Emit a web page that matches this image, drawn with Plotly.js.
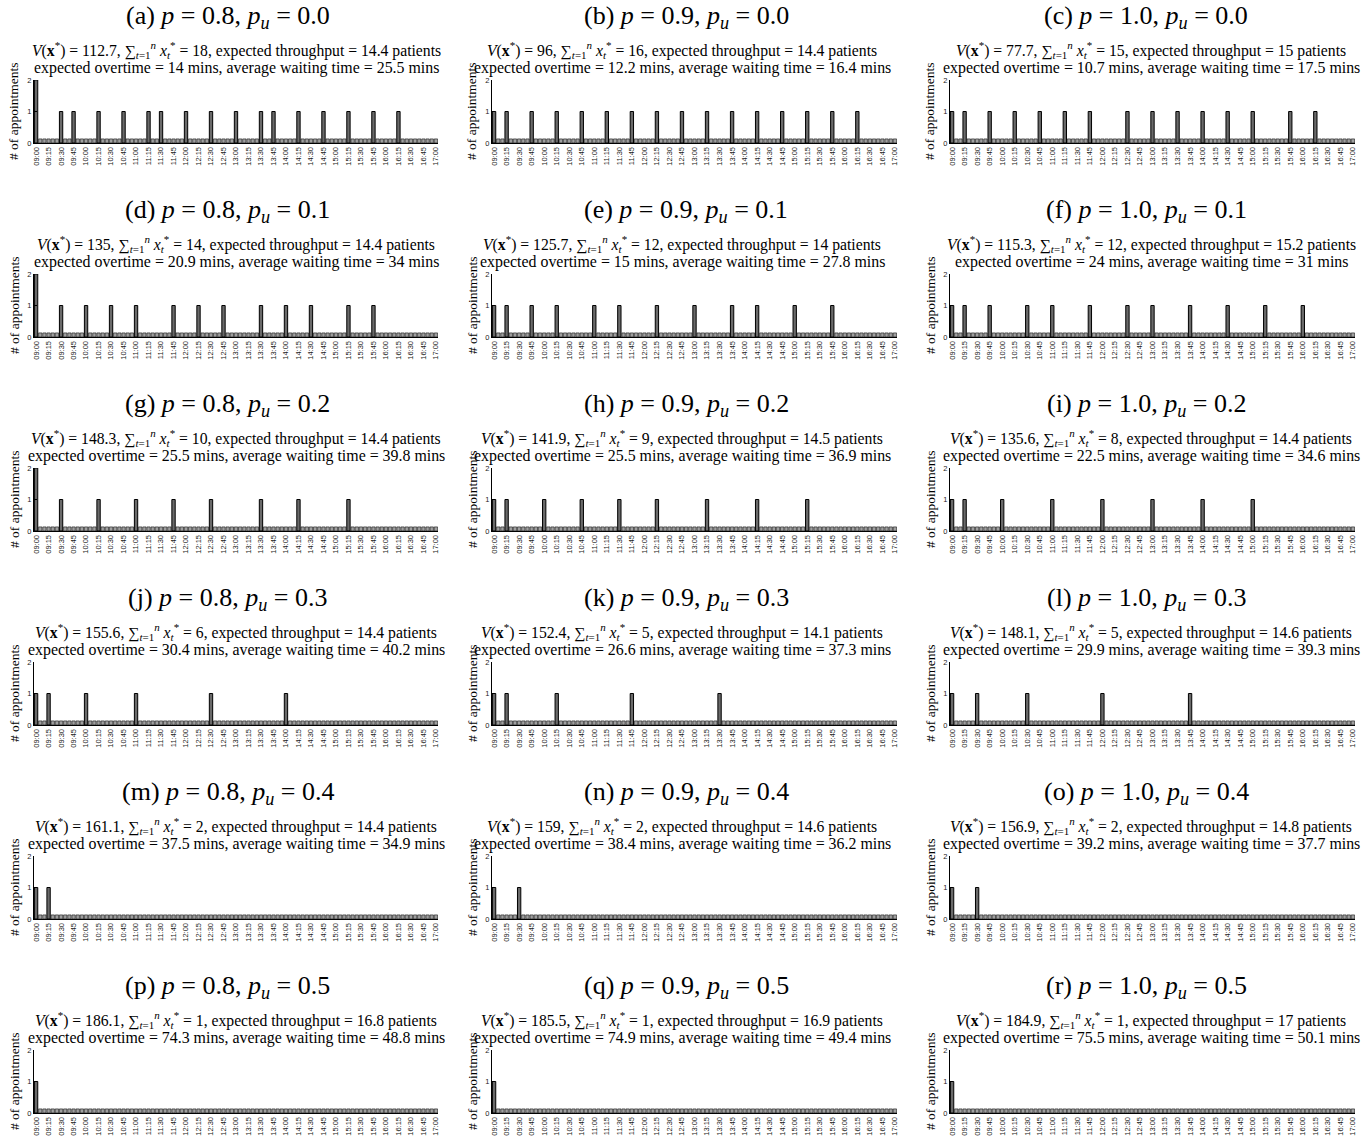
<!DOCTYPE html>
<html>
<head>
<meta charset="utf-8">
<script src="https://cdn.plot.ly/plotly-3.0.1.min.js"></script>
<style>html,body{margin:0;padding:0;background:#fff;}#chart{width:1371px;height:1141px;}</style>
</head>
<body>
<div id="chart"></div>
<script>
// ---------- DATA ----------
const tickLabels = ["09:00","09:15","09:30","09:45","10:00","10:15","10:30","10:45","11:00","11:15","11:30","11:45","12:00","12:15","12:30","12:45","13:00","13:15","13:30","13:45","14:00","14:15","14:30","14:45","15:00","15:15","15:30","15:45","16:00","16:15","16:30","16:45","17:00"];
const panelLetters = ["a","b","c","d","e","f","g","h","i","j","k","l","m","n","o","p","q","r"];
const pValues  = [0.8,0.9,1.0, 0.8,0.9,1.0, 0.8,0.9,1.0, 0.8,0.9,1.0, 0.8,0.9,1.0, 0.8,0.9,1.0];
const puValues = [0.0,0.0,0.0, 0.1,0.1,0.1, 0.2,0.2,0.2, 0.3,0.3,0.3, 0.4,0.4,0.4, 0.5,0.5,0.5];
const vStar      = [112.7,96,77.7, 135,125.7,115.3, 148.3,141.9,135.6, 155.6,152.4,148.1, 161.1,159,156.9, 186.1,185.5,184.9];
const sumX       = [18,16,15, 14,12,12, 10,9,8, 6,5,5, 2,2,2, 1,1,1];
const throughput = [14.4,14.4,15, 14.4,14,15.2, 14.4,14.5,14.4, 14.4,14.1,14.6, 14.4,14.6,14.8, 16.8,16.9,17];
const overtime   = [14,12.2,10.7, 20.9,15,24, 25.5,25.5,22.5, 30.4,26.6,29.9, 37.5,38.4,39.2, 74.3,74.9,75.5];
const waiting    = [25.5,16.4,17.5, 34,27.8,31, 39.8,36.9,34.6, 40.2,37.3,39.3, 34.9,36.2,37.7, 48.8,49.4,50.1];

// appointment start times (one entry per appointment)
const apptA = ["09:00","09:00","09:30","09:45","10:15","10:45","11:15","11:30","12:00","12:30","13:00","13:30","13:45","14:15","14:45","15:15","15:45","16:15"];
const apptB = ["09:00","09:15","09:45","10:15","10:45","11:15","11:45","12:15","12:45","13:15","13:45","14:15","14:45","15:15","15:45","16:15"];
const apptC = ["09:00","09:15","09:45","10:15","10:45","11:15","11:45","12:30","13:00","13:30","14:00","14:30","15:00","15:45","16:15"];
const apptD = ["09:00","09:00","09:30","10:00","10:30","11:00","11:45","12:15","12:45","13:30","14:00","14:30","15:15","15:45"];
const apptE = ["09:00","09:15","09:45","10:15","11:00","11:30","12:15","13:00","13:45","14:15","15:00","15:45"];
const apptF = ["09:00","09:15","09:45","10:30","11:00","11:45","12:30","13:00","13:45","14:30","15:15","16:00"];
const apptG = ["09:00","09:00","09:30","10:15","11:00","11:45","12:30","13:30","14:15","15:15"];
const apptH = ["09:00","09:15","10:00","10:45","11:30","12:15","13:15","14:15","15:15"];
const apptI = ["09:00","09:15","10:00","11:00","12:00","13:00","14:00","15:00"];
const apptJ = ["09:00","09:15","10:00","11:00","12:30","14:00"];
const apptK = ["09:00","09:15","10:15","11:45","13:30"];
const apptL = ["09:00","09:30","10:30","12:00","13:45"];
const apptM = ["09:00","09:15"];
const apptN = ["09:00","09:30"];
const apptO = ["09:00","09:30"];
const apptP = ["09:00"];
const apptQ = ["09:00"];
const apptR = ["09:00"];
const appointments = [apptA,apptB,apptC,apptD,apptE,apptF,apptG,apptH,apptI,apptJ,apptK,apptL,apptM,apptN,apptO,apptP,apptQ,apptR];

// ---------- LAYOUT HELPERS ----------
const W = 1371, H = 1141;
const SLOT = 5;            // minutes per slot
const DAY = 480;           // 09:00 - 17:00
const ZERO_STUB = 0.13;    // drawn height of empty slots
function toMin(s){ const [h,m] = s.split(":").map(Number); return h*60+m-540; }
const px = v => v / W;
const py = v => 1 - v / H;

const colAxis = [[34,438],[492,897],[950,1355]];
const colCaption = [228,686,1146];
const colSub = [236,682,1151];
const ROW0_TOP = 80, ROW0_BOT = 143, ROW_STEP = 194;

const serif = "Liberation Serif, Times New Roman, serif";
const sans = "Liberation Sans, Arial, sans-serif";

const slots = [];
for (let m = 0; m <= DAY; m += SLOT) slots.push(m);
const tickVals = tickLabels.map(toMin);

const traces = [];
const layout = {
  width: W, height: H,
  margin: {l:0, r:0, t:0, b:0},
  paper_bgcolor: "#fff", plot_bgcolor: "rgba(0,0,0,0)",
  showlegend: false,
  annotations: [],
  bargap: 0
};

const fmt1 = v => v.toFixed(1);

for (let k = 0; k < 18; k++) {
  const row = Math.floor(k / 3), col = k % 3;
  const idx = k === 0 ? "" : String(k + 1);
  const counts = slots.map(() => 0);
  appointments[k].forEach(t => { counts[toMin(t) / SLOT] += 1; });
  const heights = counts.map(c => c > 0 ? c : ZERO_STUB);
  traces.push({
    type: "bar",
    x: slots, y: heights,
    width: 4,
    xaxis: "x" + idx, yaxis: "y" + idx,
    marker: {
      color: counts.map(c => c > 0 ? "#6a6a6a" : "#a0a0a0"),
      line: {color: "#000", width: counts.map(c => c > 0 ? 1 : 0.55)}
    },
    hoverinfo: "skip"
  });
  const top = ROW0_TOP + row * ROW_STEP, bot = ROW0_BOT + row * ROW_STEP;
  layout["xaxis" + idx] = {
    domain: [px(colAxis[col][0]), px(colAxis[col][1])],
    anchor: "y" + idx,
    range: [-2.5, DAY + 2.5],
    tickmode: "array", tickvals: tickVals, ticktext: tickLabels,
    tickangle: -90,
    tickfont: {family: sans, size: 7.5, color: "#222"},
    ticks: "", showgrid: false, zeroline: false,
    showline: true, linecolor: "#000", linewidth: 1,
    fixedrange: true
  };
  layout["yaxis" + idx] = {
    domain: [py(bot), py(top)],
    anchor: "x" + idx,
    range: [0, 2],
    tickmode: "array", tickvals: [0,1,2], ticktext: ["0","1","2"],
    tickfont: {family: sans, size: 7.5, color: "#222"},
    ticks: "inside", ticklen: 3, tickcolor: "#000",
    showgrid: false, zeroline: false,
    showline: true, linecolor: "#000", linewidth: 1,
    fixedrange: true
  };
  // caption
  layout.annotations.push({
    xref: "paper", yref: "paper",
    x: px(colCaption[col]), y: py(17 + row * ROW_STEP),
    xanchor: "center", yanchor: "middle", showarrow: false,
    text: "(" + panelLetters[k] + ") <i>p</i> = " + fmt1(pValues[k]) + ", <i>p</i><sub><i>u</i></sub> = " + fmt1(puValues[k]),
    font: {family: serif, size: 26, color: "#000"}
  });
  // subtitle line 1
  layout.annotations.push({
    xref: "paper", yref: "paper",
    x: px(colSub[col]), y: py(50 + row * ROW_STEP),
    xanchor: "center", yanchor: "middle", showarrow: false,
    text: "<i>V</i>(<b>x</b><sup>*</sup>) = " + vStar[k] + ", ∑<sub><i>t</i>=1</sub><sup><i>n</i></sup> <i>x</i><sub><i>t</i></sub><sup>*</sup> = " + sumX[k] + ", expected throughput = " + throughput[k] + " patients",
    font: {family: serif, size: 15.7, color: "#000"}
  });
  // subtitle line 2
  layout.annotations.push({
    xref: "paper", yref: "paper",
    x: px(colSub[col]), y: py(68 + row * ROW_STEP),
    xanchor: "center", yanchor: "middle", showarrow: false,
    text: "expected overtime = " + overtime[k] + " mins, average waiting time = " + waiting[k] + " mins",
    font: {family: serif, size: 15.9, color: "#000"}
  });
  // y title
  layout.annotations.push({
    xref: "paper", yref: "paper",
    x: px(colAxis[col][0] - 20), y: py(111 + row * ROW_STEP),
    xanchor: "center", yanchor: "middle", showarrow: false, textangle: -90,
    text: "# of appointments",
    font: {family: serif, size: 13.5, color: "#000"}
  });
}

Plotly.newPlot("chart", traces, layout, {staticPlot: true, displayModeBar: false});
</script>
</body>
</html>
